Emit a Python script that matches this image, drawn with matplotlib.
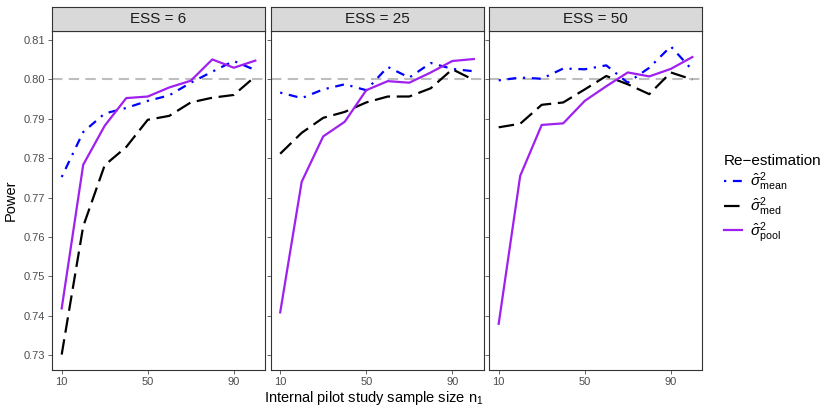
import matplotlib

matplotlib.use("Agg")

import matplotlib.pyplot as plt
from matplotlib.lines import Line2D

plt.rcParams["font.family"] = ["Liberation Sans", "DejaVu Sans"]
plt.rcParams["mathtext.fontset"] = "custom"
plt.rcParams["mathtext.rm"] = "Liberation Sans"
plt.rcParams["mathtext.it"] = "Liberation Sans:italic"

# pilot sample sizes (x) shared by all panels
n1 = [10, 20, 30, 40, 50, 60, 70, 80, 90, 100]
panels = ["ESS = 6", "ESS = 25", "ESS = 50"]

# power, one list per panel and method
mean_ess6 = [0.7752, 0.7866, 0.7913, 0.7927, 0.7945, 0.7959, 0.7991, 0.8019, 0.8046, 0.8023]
med_ess6 = [0.7302, 0.7627, 0.7782, 0.7828, 0.7897, 0.7907, 0.7941, 0.7953, 0.7960, 0.8007]
pool_ess6 = [0.7419, 0.7783, 0.7882, 0.7952, 0.7956, 0.7979, 0.7996, 0.8050, 0.8029, 0.8047]

mean_ess25 = [0.7966, 0.7952, 0.7974, 0.7987, 0.7972, 0.8031, 0.8004, 0.8041, 0.8026, 0.8020]
med_ess25 = [0.7811, 0.7864, 0.7902, 0.7917, 0.7941, 0.7956, 0.7956, 0.7977, 0.8025, 0.7998]
pool_ess25 = [0.7409, 0.7740, 0.7855, 0.7892, 0.7972, 0.7995, 0.7991, 0.8017, 0.8046, 0.8051]

mean_ess50 = [0.7997, 0.8004, 0.8001, 0.8027, 0.8025, 0.8035, 0.7991, 0.8029, 0.8083, 0.8023]
med_ess50 = [0.7878, 0.7887, 0.7935, 0.7941, 0.7974, 0.8008, 0.7987, 0.7962, 0.8017, 0.7999]
pool_ess50 = [0.7380, 0.7755, 0.7884, 0.7888, 0.7945, 0.7982, 0.8017, 0.8007, 0.8026, 0.8056]

target_power = 0.80
y_ticks = [0.73, 0.74, 0.75, 0.76, 0.77, 0.78, 0.79, 0.80, 0.81]
x_ticks = [10, 50, 90]

series = [
    (mean_ess6, med_ess6, pool_ess6),
    (mean_ess25, med_ess25, pool_ess25),
    (mean_ess50, med_ess50, pool_ess50),
]

W, H = 830, 415
fig = plt.figure(figsize=(W / 100, H / 100), dpi=100)

styles = [
    dict(color="#0000ff", linestyle=(0, (1, 3, 4, 3))),
    dict(color="black", linestyle=(0, (7, 3))),
    dict(color="#a020f0", linestyle="solid"),
]
lw = 1.6

all_vals = [v for trio in series for s in trio for v in s]
lo, hi = min(all_vals), max(all_vals)
pad = (hi - lo) * 0.05
ylim = (lo - pad, hi + pad)
xpad = (max(n1) - min(n1)) * 0.05
xlim = (min(n1) - xpad, max(n1) + xpad)

lefts = [52, 270.5, 489]
panel_w = 213
top, bottom = 31, 370
strip_top = 7
border = "#333333"

for i, (label, trio) in enumerate(zip(panels, series)):
    ax = fig.add_axes([lefts[i] / W, (H - bottom) / H, panel_w / W, (bottom - top) / H])
    ax.axhline(target_power, color="#bebebe", linewidth=1.5, linestyle=(0, (5, 3)), zorder=1)
    for vals, st in zip(trio, styles):
        ax.plot(n1, vals, linewidth=lw, zorder=2, **st)
    ax.set_xlim(*xlim)
    ax.set_ylim(*ylim)
    ax.set_xticks(x_ticks)
    ax.set_yticks(y_ticks)
    if i == 0:
        ax.set_yticklabels([f"{t:.2f}" for t in y_ticks])
        ax.set_ylabel("Power", fontsize=10.5, labelpad=4)
    else:
        ax.set_yticklabels([])
        ax.tick_params(axis="y", length=0)
    ax.tick_params(labelsize=8, colors="#4d4d4d", length=3, width=0.6, pad=2)
    for sp in ax.spines.values():
        sp.set_color(border)
        sp.set_linewidth(0.8)

    # facet strip
    sax = fig.add_axes([lefts[i] / W, (H - top) / H, panel_w / W, (top - strip_top) / H])
    sax.set_xticks([])
    sax.set_yticks([])
    sax.set_facecolor("#d9d9d9")
    for sp in sax.spines.values():
        sp.set_color(border)
        sp.set_linewidth(0.8)
    sax.text(0.5, 0.5, label, ha="center", va="center", fontsize=11, color="#1a1a1a",
             transform=sax.transAxes)

fig.text(374 / W, 1 - 398 / H, "Internal pilot study sample size n$_1$",
         ha="center", va="center", fontsize=10.5)

handles = [Line2D([0], [0], linewidth=lw, **st) for st in styles]
labels = [r"$\hat{\sigma}^2_{\mathrm{mean}}$", r"$\hat{\sigma}^2_{\mathrm{med}}$",
          r"$\hat{\sigma}^2_{\mathrm{pool}}$"]
leg = fig.legend(handles, labels, title="Re\u2212estimation", loc="upper left",
                 bbox_to_anchor=(718 / W, 1 - 148 / H), frameon=False, fontsize=11,
                 title_fontsize=11, handlelength=1.2, handletextpad=0.5,
                 labelspacing=0.15, borderaxespad=0)
leg._legend_box.align = "left"

fig.savefig("out.png", dpi=100)
